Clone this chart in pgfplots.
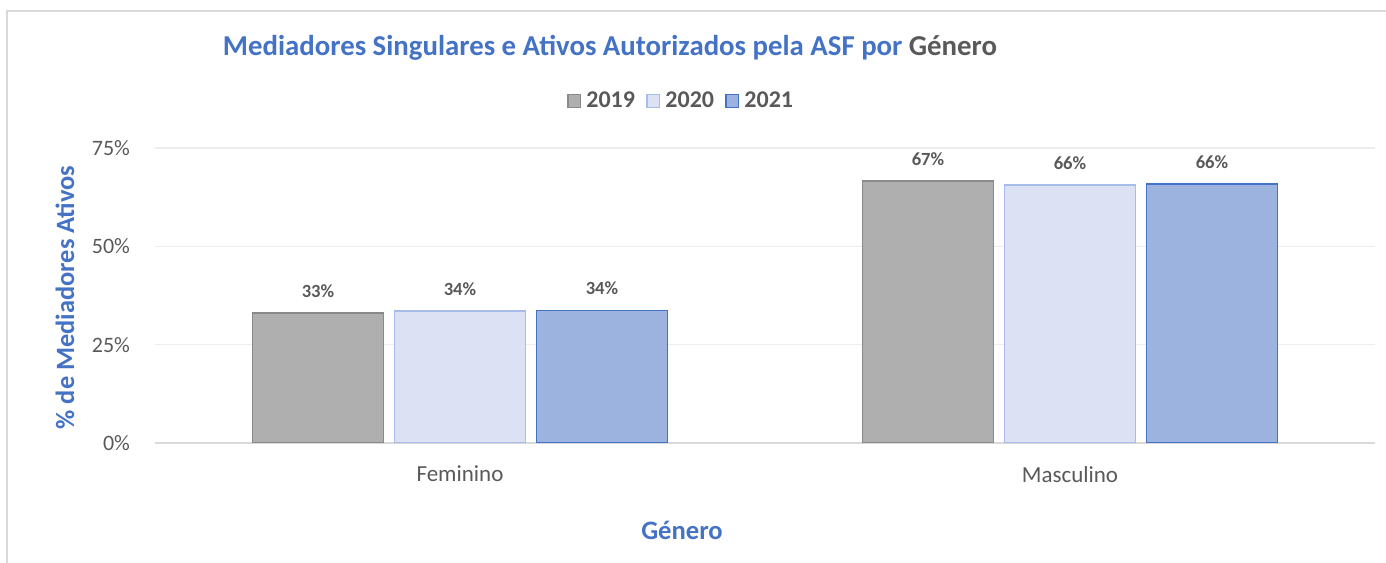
\documentclass[border=0pt]{standalone}
\usepackage{pgfplots}
\pgfplotsset{compat=1.18}
\usepackage{fontspec}
\setmainfont{Carlito}
\definecolor{txt}{HTML}{595959}
\definecolor{ttl}{HTML}{4472C4}
\definecolor{framec}{HTML}{D9D9D9}
\definecolor{gridc}{HTML}{EDEDED}
\definecolor{axisc}{HTML}{D9D9D9}
\definecolor{fA}{HTML}{AFAFAF}
\definecolor{dA}{HTML}{8A8A8A}
\definecolor{fB}{HTML}{DCE2F3}
\definecolor{dB}{HTML}{A7BCE8}
\definecolor{fC}{HTML}{9BB3DE}
\definecolor{dC}{HTML}{4472C4}
\begin{document}
\begin{tikzpicture}
\useasboundingbox (0,0) rectangle (693pt,281pt);
\draw[color=framec, line width=0.8pt] (3.5pt,-5pt) -- (3.5pt,275.5pt) -- (710pt,275.5pt);
\begin{axis}[
  at={(77.5pt,59.5pt)}, anchor=south west, scale only axis,
  width=610pt, height=147.5pt,
  ymin=0, ymax=75, xmin=-0.5, xmax=1.5,
  ybar=5.5pt, bar width=65.5pt,
  xtick={0,1}, xticklabels={Feminino,Masculino},
  ytick={0,25,50,75},
  yticklabel={\pgfmathprintnumber{\tick}\%},
  /pgf/number format/assume math mode=true,
  ymajorgrids, grid style={color=gridc, line width=0.8pt},
  axis x line*=bottom, axis y line*=left,
  y axis line style={draw=none},
  x axis line style={color=axisc, line width=0.8pt, -},
  major tick length=0pt,
  tick label style={font=\fontsize{11}{13}\selectfont, text=txt},
  yticklabel style={xshift=-9pt},
  xticklabel style={yshift=-8pt, font=\fontsize{11.5}{13}\selectfont},
  nodes near coords={\pgfmathprintnumber[fixed,precision=0]{\pgfplotspointmeta}\%},
  nodes near coords style={font=\bfseries\fontsize{9.3}{11}\selectfont, text=txt, anchor=south, yshift=4pt},
  legend columns=3,
  legend style={at={(0.4320,1.1593)}, anchor=center, draw=none, fill=none,
    font=\bfseries\fontsize{12}{14}\selectfont, text=txt,
    /tikz/every even column/.append style={column sep=3.5pt},
    /tikz/every odd column/.append style={column sep=0.5pt}},
  legend image code/.code={\draw[#1, line width=0.8pt] (0pt,-3.2pt) rectangle (6.4pt,3.2pt);},
]
\addplot[fill=fA, draw=dA, line width=0.9pt] coordinates {(0,33.1) (1,66.6)};
\addplot[fill=fB, draw=dB, line width=0.8pt] coordinates {(0,33.6) (1,65.6)};
\addplot[fill=fC, draw=dC, line width=0.8pt] coordinates {(0,33.7) (1,65.9)};
\legend{2019,2020,2021}
\end{axis}
\node[font=\bfseries\fontsize{14.4}{16}\selectfont] at (305pt,257pt) {\textcolor{ttl}{Mediadores Singulares e Ativos Autorizados pela ASF por} \textcolor{txt}{Género}};
\node[rotate=90, font=\bfseries\fontsize{13.2}{15}\selectfont, text=ttl] at (32.5pt,132.25pt) {\% de Mediadores Ativos};
\node[font=\bfseries\fontsize{13.3}{15}\selectfont, text=ttl] at (341pt,16pt) {Género};
\end{tikzpicture}
\end{document}
